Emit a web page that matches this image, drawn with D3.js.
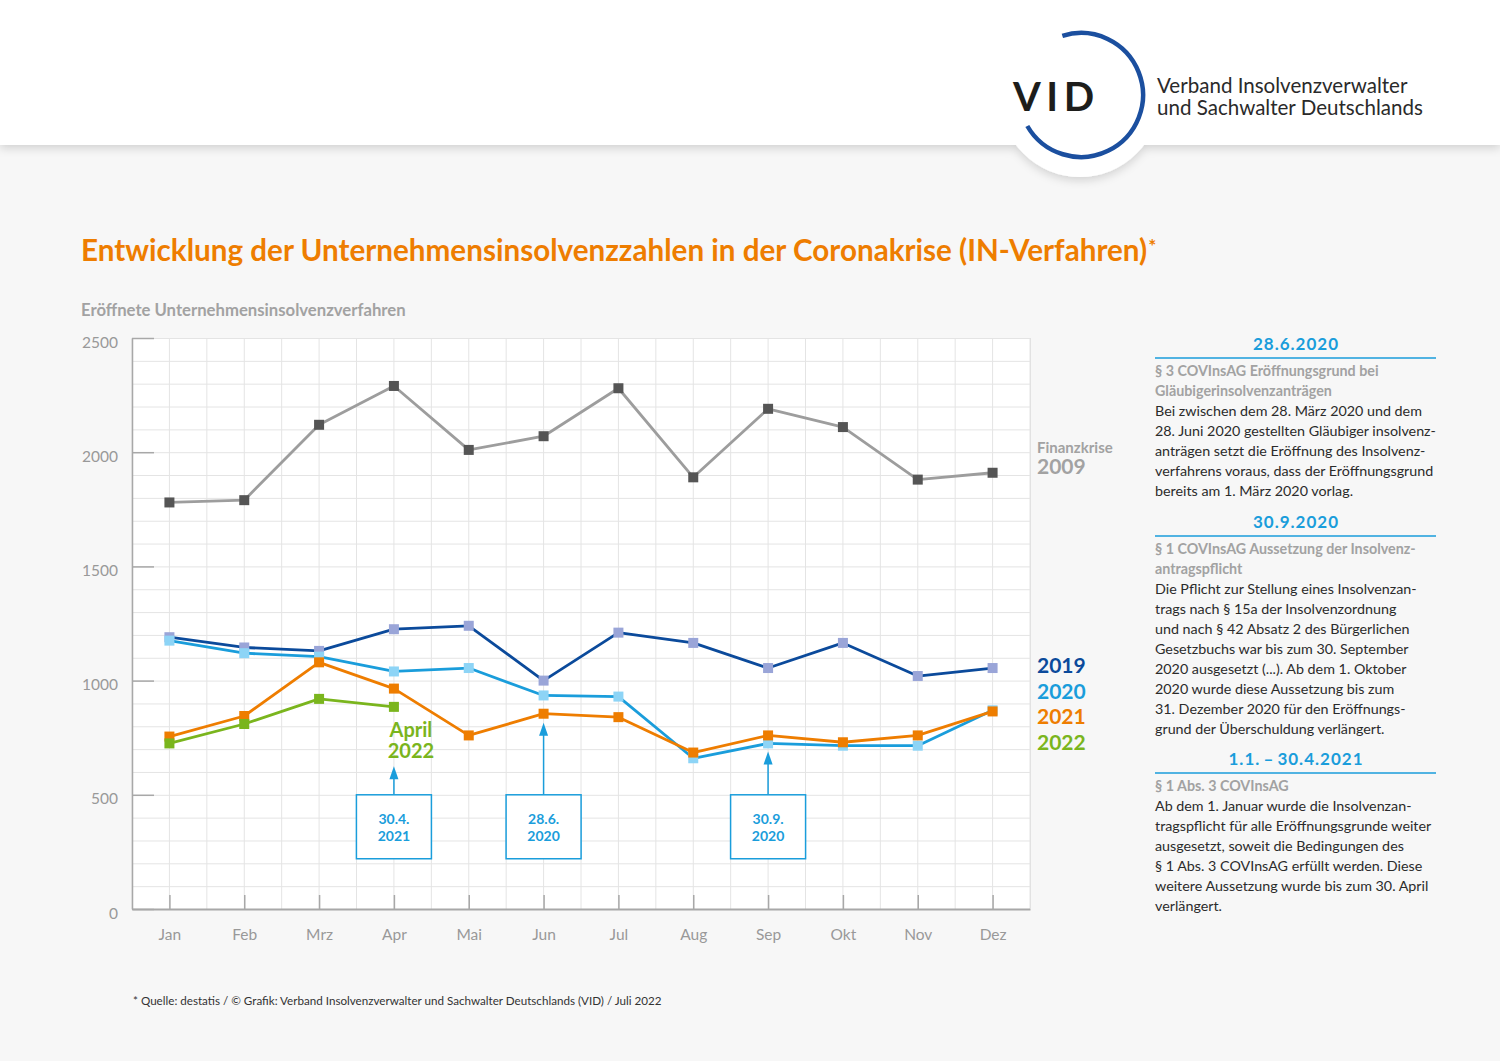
<!DOCTYPE html>
<html>
<head>
<meta charset="utf-8">
<script src="https://cdn.jsdelivr.net/npm/d3@7"></script>
<style>
  body { margin: 0; background: #f7f7f7; }
  svg { display: block; font-family: Lato, 'Open Sans', sans-serif; }
</style>
</head>
<body>
<div id="vis"></div>
<script>
'use strict';

// data
var months = ['Jan', 'Feb', 'Mrz', 'Apr', 'Mai', 'Jun', 'Jul', 'Aug', 'Sep', 'Okt', 'Nov', 'Dez'];
var values2009 = [1780, 1790, 2120, 2290, 2010, 2070, 2280, 1890, 2190, 2110, 1880, 1910];
var values2019 = [1190, 1145, 1130, 1225, 1240, 1000, 1210, 1165, 1055, 1165, 1020, 1055];
var values2020 = [1175, 1120, 1105, 1040, 1055, 935, 930, 660, 725, 715, 715, 870];
var values2021 = [755, 845, 1080, 965, 760, 855, 840, 685, 760, 730, 760, 865];
var values2022 = [725, 810, 920, 885];
var yTicks = [0, 500, 1000, 1500, 2000, 2500];

// annotation boxes: month index, arrow tip value, label
var noteMonths = [3, 5, 8];
var noteTips = [625, 815, 690];
var noteLabels = [['30.4.', '2021'], ['28.6.', '2020'], ['30.9.', '2020']];

// side text
var sideHeads = ['28.6.2020', '30.9.2020', '1.1.\u2009\u2013\u200930.4.2021'];
var sideSubs = [
    ['§ 3 COVInsAG Eröffnungsgrund bei', 'Gläubigerinsolvenzanträgen'],
    ['§ 1 COVInsAG Aussetzung der Insolvenz-', 'antragspflicht'],
    ['§ 1 Abs. 3 COVInsAG']
];
var sideBodies = [
    ['Bei zwischen dem 28. März 2020 und dem', '28. Juni 2020 gestellten Gläubiger insolvenz-',
        'anträgen setzt die Eröffnung des Insolvenz-', 'verfahrens voraus, dass der Eröffnungsgrund',
        'bereits am 1. März 2020 vorlag.'],
    ['Die Pflicht zur Stellung eines Insolvenzan-', 'trags nach § 15a der Insolvenzordnung',
        'und nach § 42 Absatz 2 des Bürgerlichen', 'Gesetzbuchs war bis zum 30. September',
        '2020 ausgesetzt (...). Ab dem 1. Oktober', '2020 wurde diese Aussetzung bis zum',
        '31. Dezember 2020 für den Eröffnungs-', 'grund der Überschuldung verlängert.'],
    ['Ab dem 1. Januar wurde die Insolvenzan-', 'tragspflicht für alle Eröffnungsgrunde weiter',
        'ausgesetzt, soweit die Bedingungen des', '§ 1 Abs. 3 COVInsAG erfüllt werden. Diese',
        'weitere Aussetzung wurde bis zum 30. April', 'verlängert.']
];

//layout
var W = 1500, H = 1061;
var plot = { left: 132, right: 1030, top: 338, bottom: 909 };

//colors
var colors = {
    orange: '#ee7d00', grey: '#a2a2a2', greyDark: '#555555', blueDark: '#0b4a9b',
    blue: '#1a9ddb', green: '#7ab51d', text: '#2b2b2b', axis: '#a8a8a8', grid: '#e4e4e4'
};

var series = [
    { values: values2009, line: '#9d9d9d', marker: colors.greyDark },
    { values: values2019, line: colors.blueDark, marker: '#9aa5d8' },
    { values: values2020, line: colors.blue, marker: '#8dd4f6' },
    { values: values2021, line: colors.orange, marker: colors.orange },
    { values: values2022, line: colors.green, marker: colors.green }
];

var x = d3.scaleLinear().domain([-0.5, 11.5]).range([plot.left, plot.right]);
var y = d3.scaleLinear().domain([0, 2500]).range([plot.bottom, plot.top]);

var svg = d3.select('#vis').append('svg')
    .attr('width', W)
    .attr('height', H);

svg.append('rect').attr('width', W).attr('height', H).attr('fill', '#f7f7f7');

var defs = svg.append('defs');
var shadow = defs.append('filter').attr('id', 'shadow')
    .attr('x', '-20%').attr('y', '-20%').attr('width', '140%').attr('height', '160%');
shadow.append('feDropShadow')
    .attr('dx', 0).attr('dy', 3).attr('stdDeviation', 5)
    .attr('flood-color', '#000').attr('flood-opacity', 0.16);

//fit text to a given width by changing font size
function fitWidth(sel, width) {
    var fs = parseFloat(sel.attr('font-size'));
    var w = sel.node().getComputedTextLength();
    if (w > 0) {
        sel.attr('font-size', fs * width / w);
    }
    return parseFloat(sel.attr('font-size'));
}

//header band + logo
var header = svg.append('g').attr('filter', 'url(#shadow)');
header.append('rect').attr('width', W).attr('height', 145).attr('fill', '#fff');
header.append('circle').attr('cx', 1080).attr('cy', 97).attr('r', 80).attr('fill', '#fff');

svg.append('path')
    .attr('transform', 'translate(1081, 95)')
    .attr('d', d3.arc()({ innerRadius: 62, outerRadius: 62, startAngle: -17.5 * Math.PI / 180, endAngle: 240 * Math.PI / 180 }))
    .attr('fill', 'none')
    .attr('stroke', '#1b4f9f')
    .attr('stroke-width', 4.5);

svg.append('text')
    .attr('x', 1013).attr('y', 111)
    .attr('font-size', 40).attr('font-weight', 700)
    .attr('letter-spacing', 5.5)
    .attr('fill', '#1d1d1b')
    .text('VID');

var logo1 = svg.append('text').attr('x', 1157).attr('y', 93)
    .attr('fill', '#2a2a2a').attr('font-size', 19.5).text('Verband Insolvenzverwalter');
var logo2 = svg.append('text').attr('x', 1157).attr('y', 115)
    .attr('fill', '#2a2a2a').attr('font-size', 19.5).text('und Sachwalter Deutschlands');
logo1.attr('font-size', fitWidth(logo2, 266));

//title
var title = svg.append('text')
    .attr('x', 81).attr('y', 261)
    .attr('font-size', 27).attr('font-weight', 700)
    .attr('fill', colors.orange)
    .text('Entwicklung der Unternehmensinsolvenzzahlen in der Coronakrise (IN-Verfahren)');
fitWidth(title, 1067);
svg.append('text')
    .attr('x', 81 + title.node().getComputedTextLength() + 1).attr('y', 253)
    .attr('font-size', 19).attr('font-weight', 700)
    .attr('fill', colors.orange)
    .text('*');

var yTitle = svg.append('text')
    .attr('x', 81).attr('y', 316)
    .attr('font-size', 15).attr('font-weight', 700)
    .attr('fill', colors.grey)
    .text('Eröffnete Unternehmensinsolvenzverfahren');
fitWidth(yTitle, 325);

//plot background + grid
var g = svg.append('g');
g.append('rect')
    .attr('x', plot.left).attr('y', plot.top)
    .attr('width', plot.right - plot.left).attr('height', plot.bottom - plot.top)
    .attr('fill', '#fff');

g.selectAll('.grid-h')
    .data(d3.range(0, 2501, 100))
    .enter().append('line')
    .attr('class', 'grid-h')
    .attr('x1', plot.left).attr('x2', plot.right)
    .attr('y1', function (d) { return y(d) + 0.5; })
    .attr('y2', function (d) { return y(d) + 0.5; })
    .attr('stroke', colors.grid);

g.selectAll('.grid-v')
    .data(d3.range(-0.5, 11.51, 0.5))
    .enter().append('line')
    .attr('class', 'grid-v')
    .attr('x1', function (d) { return x(d); })
    .attr('x2', function (d) { return x(d); })
    .attr('y1', plot.top).attr('y2', plot.bottom)
    .attr('stroke', colors.grid);

//axes
var yAxis = g.append('g')
    .attr('transform', 'translate(' + plot.left + ',0)')
    .call(d3.axisLeft(y).tickValues(yTicks).tickFormat(d3.format('d'))
        .tickSizeInner(-22).tickSizeOuter(0).tickPadding(14));
yAxis.select('.domain').attr('stroke', colors.axis).attr('stroke-width', 1.5);
yAxis.selectAll('.tick line').attr('stroke', colors.axis).attr('stroke-width', 1.5);
yAxis.selectAll('.tick text')
    .attr('font-family', 'Lato, sans-serif').attr('font-size', 15.5)
    .attr('fill', '#999').attr('dy', '0.85em').attr('y', -4);

var xAxis = g.append('g')
    .attr('transform', 'translate(0,' + plot.bottom + ')')
    .call(d3.axisBottom(x).tickValues(d3.range(months.length))
        .tickFormat(function (i) { return months[i]; })
        .tickSizeInner(-14).tickSizeOuter(0).tickPadding(20));
xAxis.select('.domain').attr('stroke', colors.axis).attr('stroke-width', 2);
xAxis.selectAll('.tick line').attr('stroke', colors.axis).attr('stroke-width', 1.5);
xAxis.selectAll('.tick text')
    .attr('font-family', 'Lato, sans-serif').attr('font-size', 15.5)
    .attr('fill', '#999');

//right border of the plot
g.append('line')
    .attr('x1', plot.right + 0.5).attr('x2', plot.right + 0.5)
    .attr('y1', plot.top).attr('y2', plot.bottom)
    .attr('stroke', '#e2e2e2');

//series lines + markers
var line = d3.line()
    .x(function (d, i) { return x(i); })
    .y(function (d) { return y(d); });

series.forEach(function (s) {
    g.append('path')
        .datum(s.values)
        .attr('d', line)
        .attr('fill', 'none')
        .attr('stroke', s.line)
        .attr('stroke-width', 2.8)
        .attr('stroke-linejoin', 'round');
    g.selectAll(null)
        .data(s.values)
        .enter().append('rect')
        .attr('x', function (d, i) { return x(i) - 5; })
        .attr('y', function (d) { return y(d) - 5; })
        .attr('width', 10).attr('height', 10)
        .attr('fill', s.marker);
});

//annotation boxes with arrows
var notes = g.selectAll('.note')
    .data(noteMonths)
    .enter().append('g')
    .attr('class', 'note');
notes.append('line')
    .attr('x1', function (d) { return x(d); })
    .attr('x2', function (d) { return x(d); })
    .attr('y1', y(500))
    .attr('y2', function (d, i) { return y(noteTips[i]) + 10; })
    .attr('stroke', colors.blue).attr('stroke-width', 1.5);
notes.append('path')
    .attr('d', function (d, i) {
        var tx = x(d), ty = y(noteTips[i]);
        return 'M' + tx + ',' + ty + 'L' + (tx - 4.5) + ',' + (ty + 13) + 'L' + (tx + 4.5) + ',' + (ty + 13) + 'Z';
    })
    .attr('fill', colors.blue);
notes.append('rect')
    .attr('x', function (d) { return x(d) - 37.5; })
    .attr('y', y(500))
    .attr('width', 75)
    .attr('height', y(220) - y(500))
    .attr('fill', '#fff')
    .attr('stroke', colors.blue).attr('stroke-width', 1.5);
notes.each(function (d, i) {
    var t = d3.select(this).append('text')
        .attr('text-anchor', 'middle')
        .attr('font-size', 14).attr('font-weight', 700)
        .attr('fill', colors.blue);
    t.append('tspan').attr('x', x(d)).attr('y', y(500) + 29).text(noteLabels[i][0]);
    t.append('tspan').attr('x', x(d)).attr('y', y(500) + 46).text(noteLabels[i][1]);
});

//April 2022 label at end of 2022 line
var last22 = values2022.length - 1;
var aprilLabel = g.append('text')
    .attr('text-anchor', 'middle')
    .attr('font-size', 20).attr('font-weight', 700)
    .attr('fill', colors.green);
aprilLabel.append('tspan').attr('x', x(last22) + 17).attr('y', y(values2022[last22]) + 30).text('April');
aprilLabel.append('tspan').attr('x', x(last22) + 17).attr('y', y(values2022[last22]) + 51).text('2022');

//legend
var legend = svg.append('g').attr('font-weight', 700);
legend.append('text').attr('x', 1037).attr('y', 453)
    .attr('font-size', 15).attr('fill', colors.grey).text('Finanzkrise');
legend.append('text').attr('x', 1037).attr('y', 474)
    .attr('font-size', 21).attr('fill', colors.grey).text('2009');
var legendItems = [['2019', colors.blueDark], ['2020', colors.blue], ['2021', colors.orange], ['2022', colors.green]];
legendItems.forEach(function (d, i) {
    legend.append('text')
        .attr('x', 1037).attr('y', 673 + i * 25.7)
        .attr('font-size', 21).attr('fill', d[1])
        .text(d[0]);
});

//side notes
var sideTops = [350, 528, 765];
var side = svg.append('g');
sideHeads.forEach(function (h, i) {
    var top = sideTops[i];
    side.append('text')
        .attr('x', 1296).attr('y', top)
        .attr('text-anchor', 'middle')
        .attr('font-size', 17).attr('font-weight', 700)
        .attr('letter-spacing', 1)
        .attr('fill', colors.blue)
        .text(h);
    side.append('line')
        .attr('x1', 1155).attr('x2', 1436)
        .attr('y1', top + 8).attr('y2', top + 8)
        .attr('stroke', colors.blue).attr('stroke-width', 1.3);
    var ly = top + 26;
    sideSubs[i].forEach(function (s) {
        side.append('text')
            .attr('x', 1155).attr('y', ly)
            .attr('font-size', 14.3).attr('font-weight', 700)
            .attr('fill', colors.grey)
            .text(s);
        ly += 20;
    });
    sideBodies[i].forEach(function (s) {
        side.append('text')
            .attr('x', 1155).attr('y', ly)
            .attr('font-size', 14.3)
            .attr('fill', colors.text)
            .text(s);
        ly += 20;
    });
});

//footer
var footer = svg.append('text')
    .attr('x', 133).attr('y', 1005)
    .attr('font-size', 11.5)
    .attr('fill', '#333')
    .text('* Quelle: destatis / © Grafik: Verband Insolvenzverwalter und Sachwalter Deutschlands (VID) / Juli 2022');
fitWidth(footer, 529);
</script>
</body>
</html>
